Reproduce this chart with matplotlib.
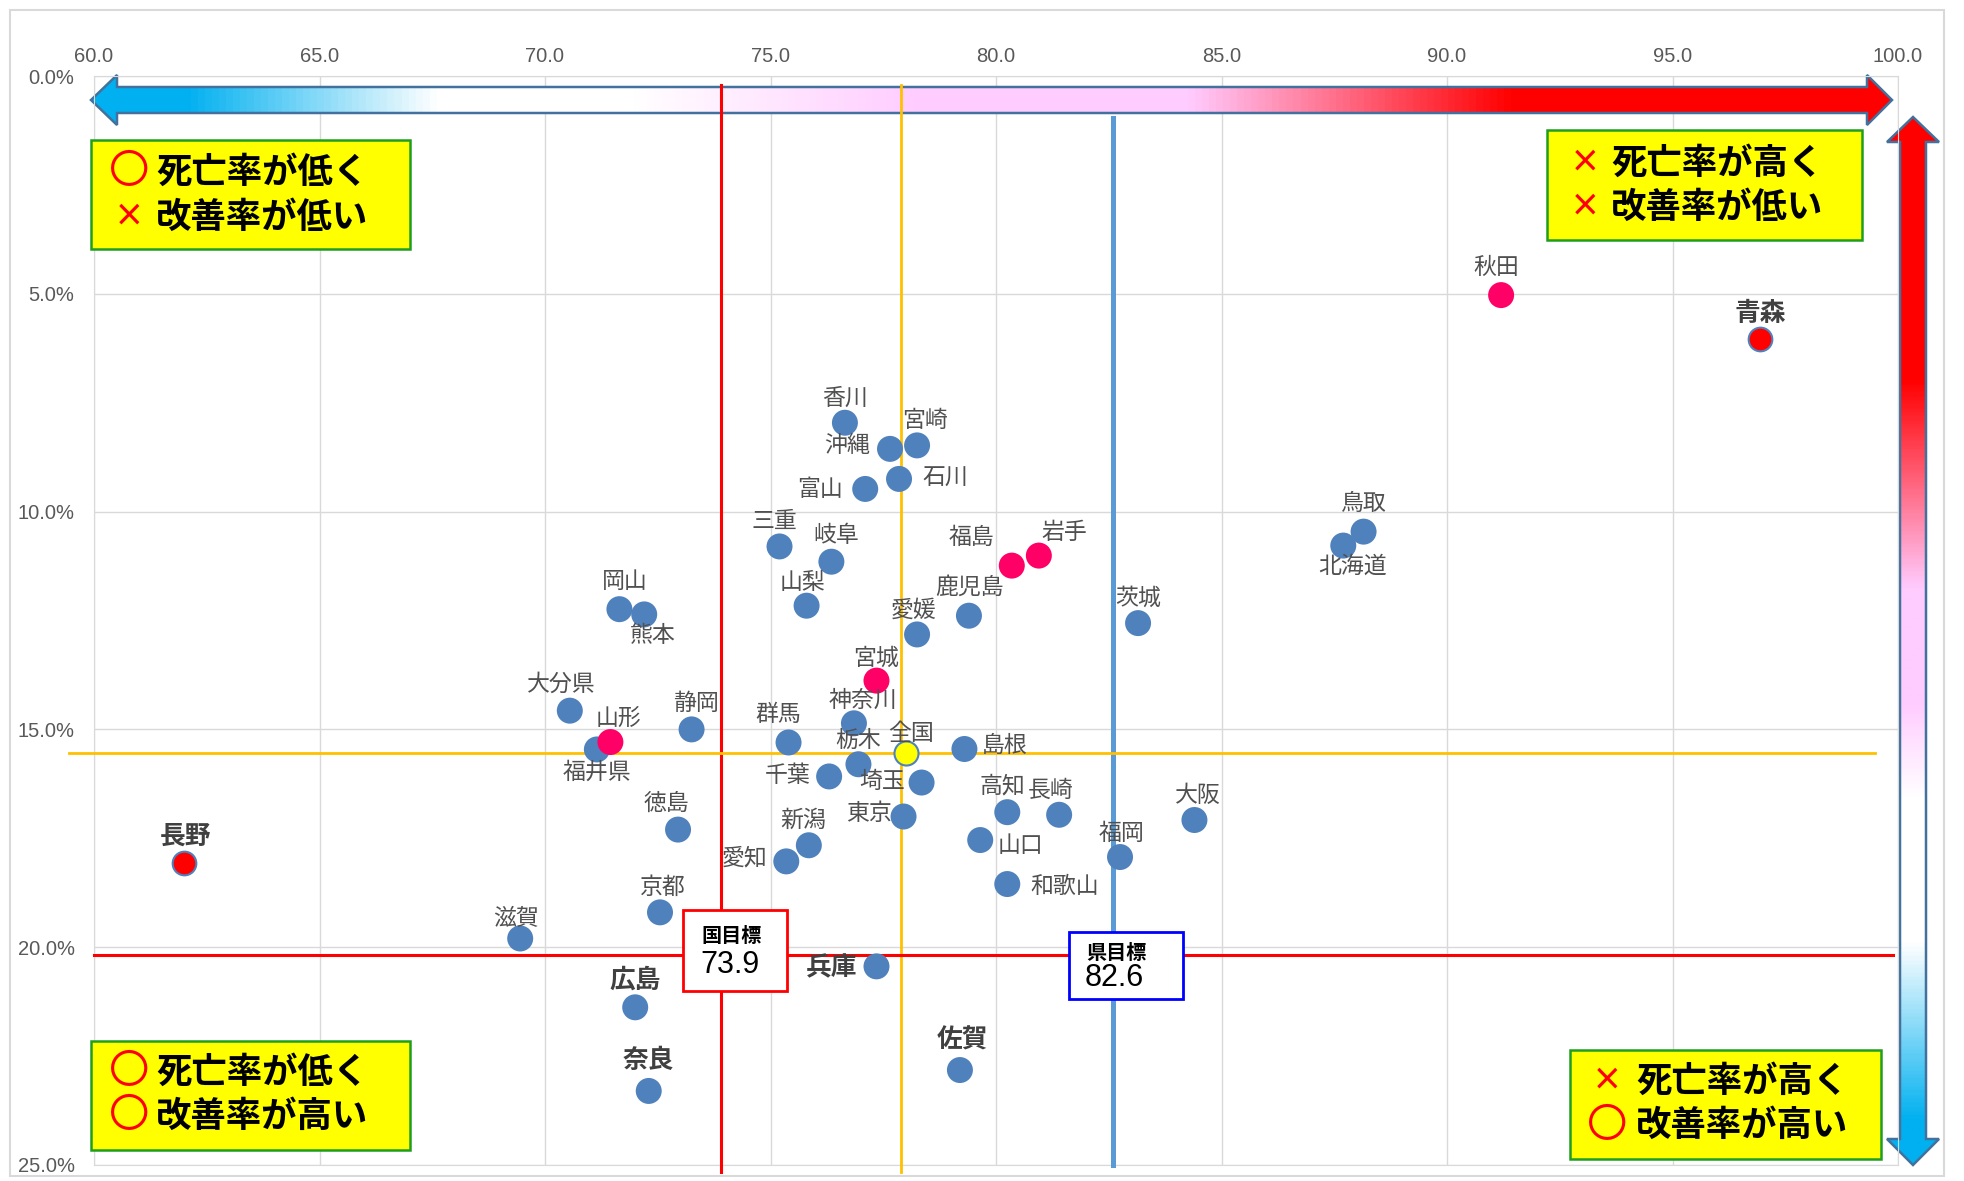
import numpy as np
import matplotlib
matplotlib.use("Agg")
import matplotlib.pyplot as plt
from matplotlib.patches import Polygon, Rectangle
from matplotlib.colors import LinearSegmentedColormap
from matplotlib.transforms import Affine2D

plt.rcParams['font.family'] = ['Noto Sans CJK JP', 'DejaVu Sans']

# --- data ---
prefs = ["秋田", "青森", "香川", "宮崎", "沖縄", "石川", "富山", "鳥取", "北海道", "三重",
         "岐阜", "岩手", "福島", "山梨", "岡山", "熊本", "鹿児島", "茨城", "愛媛", "宮城",
         "大分県", "神奈川", "静岡", "群馬", "山形", "福井県", "島根", "栃木", "千葉", "埼玉",
         "高知", "長崎", "東京", "大阪", "徳島", "新潟", "山口", "福岡", "愛知", "長野",
         "和歌山", "京都", "滋賀", "兵庫", "広島", "佐賀", "奈良", "全国"]
x_score = [91.2, 96.95, 76.65, 78.25, 77.65, 77.85, 77.1, 88.15, 87.7, 75.2,
           76.35, 80.95, 80.35, 75.8, 71.65, 72.2, 79.4, 83.15, 78.25, 77.35,
           70.55, 76.85, 73.25, 75.4, 71.45, 71.15, 79.3, 76.95, 76.3, 78.35,
           80.25, 81.4, 77.95, 84.4, 72.95, 75.85, 79.65, 82.75, 75.35, 62.0,
           80.25, 72.55, 69.45, 77.35, 72.0, 79.2, 72.3, 78.0]
y_rate = [5.03, 6.03, 7.96, 8.48, 8.56, 9.25, 9.48, 10.46, 10.78, 10.8,
          11.15, 11.01, 11.24, 12.16, 12.24, 12.36, 12.39, 12.56, 12.82, 13.88,
          14.57, 14.86, 15.0, 15.3, 15.29, 15.46, 15.45, 15.8, 16.08, 16.22,
          16.9, 16.96, 17.0, 17.08, 17.3, 17.66, 17.54, 17.93, 18.03, 18.07,
          18.55, 19.2, 19.8, 20.44, 21.38, 22.82, 23.3, 15.55]
pink_prefs = ["秋田", "岩手", "福島", "宮城", "山形"]
red_prefs = ["青森", "長野"]
bold_prefs = ["青森", "長野", "兵庫", "広島", "佐賀", "奈良"]

nat_target = 73.9      # 国目標
pref_target = 82.6     # 県目標
avg_x, avg_y = 77.9, 15.55
target_rate = 20.18

x_ticks = [60, 65, 70, 75, 80, 85, 90, 95, 100]
y_ticks = [0, 5, 10, 15, 20, 25]

box_texts = [
    [("〇", "死亡率が低く"), ("×", "改善率が低い")],
    [("×", "死亡率が高く"), ("×", "改善率が低い")],
    [("〇", "死亡率が低く"), ("〇", "改善率が高い")],
    [("×", "死亡率が高く"), ("〇", "改善率が高い")],
]

# label offsets in pixels (dx, dy up)
offs = {
    "秋田": (-5, 28), "青森": (0, 25), "香川": (0, 24), "宮崎": (8, 25), "沖縄": (-43, 3),
    "石川": (46, 1), "富山": (-45, -1), "鳥取": (0, 28), "北海道": (9, -21), "三重": (-5, 25),
    "岐阜": (5, 26), "岩手": (25, 23), "福島": (-40, 28), "山梨": (-4, 23), "岡山": (5, 28),
    "熊本": (9, -21), "鹿児島": (1, 28), "茨城": (0, 25), "愛媛": (-3, 24), "宮城": (0, 22),
    "大分県": (-9, 26), "神奈川": (9, 23), "静岡": (4, 26), "群馬": (-10, 28), "山形": (8, 24),
    "福井県": (0, -23), "全国": (5, 20), "島根": (40, 4), "栃木": (0, 24), "千葉": (-41, 1),
    "埼玉": (-39, 1), "高知": (-5, 26), "長崎": (-8, 24), "東京": (-35, 3), "大阪": (3, 25),
    "徳島": (-12, 26), "新潟": (-6, 25), "山口": (40, -5), "福岡": (1, 24), "愛知": (-42, 3),
    "長野": (1, 27), "和歌山": (57, -2), "京都": (3, 25), "滋賀": (-4, 20), "兵庫": (-45, -1),
    "広島": (0, 27), "佐賀": (3, 30), "奈良": (0, 30),
}

W, H = 1964, 1181
fig = plt.figure(figsize=(W / 100, H / 100), dpi=100)
L, R, T, B = 94, 1898, 76, 1165
ax = fig.add_axes([L / W, 1 - B / H, (R - L) / W, (B - T) / H])
px = Affine2D().scale(1 / W, -1 / H).translate(0, 1) + fig.transFigure

# outer frame
fig.add_artist(Rectangle((10, 10), 1934, 1166, transform=px, fill=False,
                         edgecolor="#D9D9D9", lw=1.5))

# gradient arrows
def grad_arrow(pts, stops, extent, vertical):
    poly = Polygon(pts, closed=True, transform=px, facecolor="none",
                   edgecolor="#41719C", lw=1.8, zorder=2.2, clip_on=False)
    ax.add_patch(poly)
    cmap = LinearSegmentedColormap.from_list("g", stops)
    g = np.linspace(0, 1, 600)
    arr = g.reshape(-1, 1) if vertical else g.reshape(1, -1)
    im = ax.imshow(arr, cmap=cmap, extent=extent, origin="upper", aspect="auto",
                   transform=px, zorder=2, interpolation="bilinear")
    im.set_clip_on(True)
    im.set_clip_path(poly)
    im.set_clip_box(fig.bbox)

blue, white, pink, red = "#00B0F0", "#FFFFFF", "#FFCCFF", "#FF0000"
h_pts = [(91, 100), (117, 75), (117, 87), (1867, 87), (1867, 75), (1892, 100),
         (1867, 125), (1867, 113), (117, 113), (117, 125)]
grad_arrow(h_pts, [(0, blue), (0.05, blue), (0.19, white), (0.30, white),
                   (0.46, pink), (0.61, pink), (0.79, red), (1, red)],
           (91, 1892, 125, 75), False)
cx = 1913
v_pts = [(cx, 117), (cx + 26, 142), (cx + 13, 142), (cx + 13, 1139), (cx + 26, 1139),
         (cx, 1165), (cx - 26, 1139), (cx - 13, 1139), (cx - 13, 142), (cx - 26, 142)]
grad_arrow(v_pts, [(0, red), (0.25, red), (0.45, pink), (0.56, pink), (0.65, white),
                   (0.79, white), (0.96, blue), (1, blue)],
           (cx - 26, cx + 26, 1165, 117), True)

# reference lines
ax.plot([nat_target, nat_target], [0.21, 25.16], color="#FF0000", lw=2.2, zorder=3, clip_on=False)
ax.plot([avg_x, avg_x], [0.21, 25.16], color="#FFC000", lw=2.0, zorder=3, clip_on=False)
ax.plot([pref_target, pref_target], [0.96, 25.0], color="#5B9BD5", lw=3.6, zorder=3, clip_on=False)
ax.plot([59.45, 99.49], [avg_y, avg_y], color="#FFC000", lw=2.0, zorder=3, clip_on=False)
ax.plot([60, 99.9], [target_rate, target_rate], color="#FF0000", lw=2.2, zorder=3, clip_on=False)

# points
for name, x, y in zip(prefs, x_score, y_rate):
    if name == "全国":
        ax.scatter(x, y, s=300, c="#FFFF00", edgecolors="#4F81BD", linewidths=1.5, zorder=5)
    elif name in red_prefs:
        ax.scatter(x, y, s=290, c="#FF0000", edgecolors="#4F81BD", linewidths=1.5, zorder=5)
    elif name in pink_prefs:
        ax.scatter(x, y, s=350, c="#FF0066", edgecolors="none", zorder=4.5)
    else:
        ax.scatter(x, y, s=350, c="#4F81BD", edgecolors="none", zorder=4)
    bold = name in bold_prefs
    ax.annotate(name, (x, y), xytext=offs[name], textcoords="offset pixels",
                ha="center", va="center", fontsize=18.5 if bold else 16.5,
                fontweight="bold" if bold else "normal",
                color="#404040" if bold else "#505050", zorder=6)

# axes styling
ax.set_xlim(60, 100)
ax.set_ylim(25, 0)
ax.xaxis.tick_top()
ax.set_xticks(x_ticks)
ax.set_xticklabels([f"{v:.1f}" for v in x_ticks])
ax.set_yticks(y_ticks)
ax.set_yticklabels([f"{v:.1f}%" for v in y_ticks])
ax.tick_params(axis="x", length=0, labelsize=14.5, colors="#595959", pad=7)
ax.tick_params(axis="y", length=0, labelsize=14.5, colors="#595959", pad=14)
for lbl in ax.get_xticklabels() + ax.get_yticklabels():
    lbl.set_fontfamily("Liberation Sans")
ax.grid(True, color="#D9D9D9", lw=1)
ax.set_axisbelow(True)
for s in ax.spines.values():
    s.set_color("#D9D9D9")

# yellow quadrant boxes
boxes = [(91, 140, 319, 109), (1547, 130, 315, 110), (91, 1041, 319, 109), (1570, 1050, 311, 109)]
rows_y = [(172, 217), (163, 207), (1072, 1116), (1081, 1125)]
sym_x = [129, 1585, 129, 1607]
txt_x = [156, 1611, 156, 1636]
for (bx, by, bw, bh), ry, sx, tx, rows in zip(boxes, rows_y, sym_x, txt_x, box_texts):
    ax.add_patch(Rectangle((bx, by), bw, bh, transform=px, facecolor="#FFFF00",
                           edgecolor="#1E9E1E", lw=1.8, zorder=7, clip_on=False))
    for yy, (sym, txt) in zip(ry, rows):
        if sym == "〇":
            ax.text(sx, yy, sym, transform=px, ha="center", va="center", color="#FF0000",
                    fontsize=29, zorder=8)
        else:
            ax.text(sx, yy, sym, transform=px, ha="center", va="center", color="#FF0000",
                    fontsize=22, fontweight="bold", zorder=8)
        ax.text(tx, yy, txt, transform=px, ha="left", va="center", color="black",
                fontsize=25.5, fontweight="bold", zorder=8)

# target labels
for (bx, by, bw, bh), ec, title, val, tx in [
        ((683, 910, 104, 81), "#FF0000", "国目標", nat_target, 701),
        ((1069, 932, 114, 67), "#0000FF", "県目標", pref_target, 1086)]:
    ax.add_patch(Rectangle((bx, by), bw, bh, transform=px, facecolor="white",
                           edgecolor=ec, lw=2, zorder=7, clip_on=False))
    ax.text(tx, by + bh * 0.31, title, transform=px, ha="left", va="center",
            fontsize=14.5, fontweight="bold", color="black", zorder=8)
    ax.text(tx - 1, by + bh * 0.68, f"{val:.1f}", transform=px, ha="left", va="center",
            fontsize=22, color="black", fontfamily="Liberation Sans", zorder=8)

fig.savefig("out.png", dpi=100, facecolor="white")
